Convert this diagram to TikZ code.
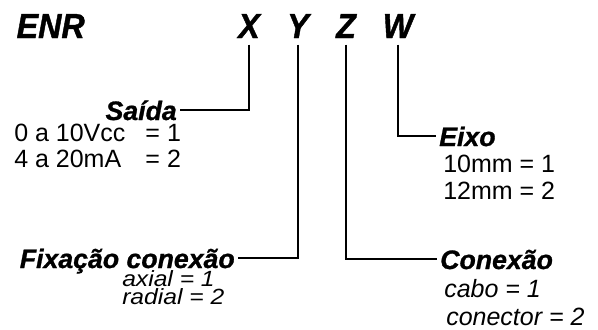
\documentclass[tikz,border=0pt]{standalone}
\usepackage{fontspec}
\setmainfont{Liberation Sans}
\newfontfamily\codefont[FakeStretch=0.93,BoldItalicFeatures={FakeBold=1.2}]{Liberation Sans}
\newfontfamily\headfont[BoldItalicFeatures={FakeBold=1}]{Liberation Sans}
\newfontfamily\widefont[FakeStretch=1.12]{Liberation Sans}
\usepackage{tikz}

\begin{document}
\begin{tikzpicture}[
    % GLOBAL CFG
    x=0.75pt, y=-0.75pt,
    % Styles
    code/.style={% For the letters of the code
        font=\codefont\fontsize{26pt}{28pt}\selectfont\bfseries\itshape,
        inner sep=0pt,
        outer sep=5pt,
        anchor=base,
        },
    field/.style={% For the name of each field
        font=\headfont\fontsize{20pt}{22pt}\selectfont\bfseries\itshape,
        inner sep=2.25pt,
        text depth=0pt,
        },
    value/.style={% For the values
        font=\fontsize{18.75pt}{21pt}\selectfont,
        inner sep=0pt,
        anchor=base west,
        },
    ivalue/.style={% same, in italics
        value,
        font=\fontsize{18.75pt}{21pt}\selectfont\itshape,
        },
    svalue/.style={% smaller italics, stretched
        value,
        font=\widefont\fontsize{16.5pt}{18pt}\selectfont\itshape,
        },
    Link/.style={% Lines from a letter to its field
        line width=1.5pt,
        },
    ]

    \useasboundingbox (0,0) rectangle (598,329);

    % Draw the code
    \node [code, anchor=base west] (enr) at (10,38) {ENR};
    \node [code] (lx) at (249,38) {X};
    \node [code] (ly) at (298,38) {Y};
    \node [code] (lz) at (346,38) {Z};
    \node [code] (lw) at (398,38) {W};

    % Draw the fields named by letter
    \node [field, anchor=base east] (fx) at (180,120) {Saída};
    \node [field, anchor=base east] (fy) at (238,268) {Fixação conexão};
    \node [field, anchor=base west] (fz) at (437,269) {Conexão};
    \node [field, anchor=base west] (fw) at (436,146) {Eixo};

    % Values
    \node [value] (x1) at (14,141) {\makebox[5.25em][l]{0 a 10Vcc}= 1};
    \node [value] (x2) at (14,167) {\makebox[5.25em][l]{4 a 20mA}= 2};
    \node [svalue] (y1) at (122,286) {axial = 1};
    \node [svalue] (y2) at (122,304) {radial = 2};
    \node [ivalue] (z1) at (444,297) {cabo = 1};
    \node [ivalue] (z2) at (446,325) {conector = 2};
    \node [value] (w1) at (443,172) {10mm = 1};
    \node [value] (w2) at (443,199) {12mm = 2};

    % Connect letters and fields
    \draw [Link] (lx.south) |- (fx.east);
    \draw [Link] (ly.south) |- (fy.east);
    \draw [Link] (lz.south) |- (fz.west);
    \draw [Link] (lw.south) |- (fw.west);

\end{tikzpicture}
\end{document}
